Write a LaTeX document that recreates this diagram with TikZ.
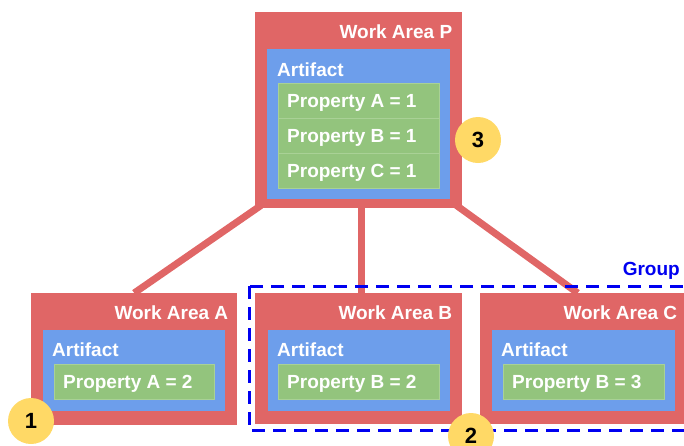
\documentclass[tikz,border=0pt]{standalone}
\usepackage{fontspec}
\setmainfont{Liberation Sans}
\usetikzlibrary{backgrounds}
\definecolor{areared}{HTML}{E06666}
\definecolor{artblue}{HTML}{6D9EEB}
\definecolor{propgreen}{HTML}{93C47D}
\definecolor{propline}{HTML}{A9D196}
\definecolor{markyellow}{HTML}{FFD966}
\definecolor{groupblue}{HTML}{0000F0}
\tikzset{
    area/.style={rectangle,fill=areared,anchor=north west,inner sep=0pt,minimum width=207pt},
    artifact/.style={rectangle,fill=artblue,anchor=north west,inner sep=0pt,minimum width=183pt},
    prop/.style={rectangle,fill=propgreen,draw=propline,line width=0.8pt,anchor=north west,inner sep=0pt,minimum width=161pt,minimum height=35pt},
    label/.style={inner sep=0pt,text=white,font=\fontsize{19}{22}\selectfont\bfseries,text height=13.6pt,text depth=0pt},
    marker/.style={circle,fill=markyellow,inner sep=0pt,minimum size=46pt,font=\fontsize{22}{26}\selectfont\bfseries},
    link/.style={areared,line width=7pt}
}
\begin{document}
\begin{tikzpicture}[x=1pt,y=-1pt]
	\useasboundingbox (0,0) rectangle (684,445);

	% parent work area
	\node[area,minimum height=196pt] (P) at (255,12) {};
	\node[label,anchor=east] at ([xshift=-10pt,yshift=-20pt]P.north east) {Work Area P};
	\node[artifact,minimum height=150pt] (artP) at (267,49) {};
	\node[label,anchor=west] at ([xshift=10pt,yshift=-21pt]artP.north west) {Artifact};
	\node[prop] (pA) at (278,83) {};
	\node[prop] (pB) at (278,118) {};
	\node[prop] (pC) at (278,153) {};
	\node[label,anchor=west] at ([xshift=9pt]pA.west) {Property A = 1};
	\node[label,anchor=west] at ([xshift=9pt]pB.west) {Property B = 1};
	\node[label,anchor=west] at ([xshift=9pt]pC.west) {Property C = 1};

	% child work areas
	\node[area,minimum width=206pt,minimum height=132pt] (A) at (31,293) {};
	\node[label,anchor=east] at ([xshift=-9pt,yshift=-20pt]A.north east) {Work Area A};
	\node[artifact,minimum width=182pt,minimum height=81pt] (artA) at (43,330) {};
	\node[label,anchor=west] at ([xshift=9pt,yshift=-20pt]artA.north west) {Artifact};
	\node[prop,minimum width=160pt] (qA) at (54,364) {};
	\node[label,anchor=west] at ([xshift=9pt]qA.west) {Property A = 2};

	\node[area,minimum height=131pt] (B) at (255,293) {};
	\node[label,anchor=east] at ([xshift=-10pt,yshift=-20pt]B.north east) {Work Area B};
	\node[artifact,minimum width=182pt,minimum height=81pt] (artB) at (268,330) {};
	\node[label,anchor=west] at ([xshift=9pt,yshift=-20pt]artB.north west) {Artifact};
	\node[prop] (qB) at (278,364) {};
	\node[label,anchor=west] at ([xshift=9pt]qB.west) {Property B = 2};

	\node[area,minimum height=131pt] (C) at (480,293) {};
	\node[label,anchor=east] at ([xshift=-10pt,yshift=-20pt]C.north east) {Work Area C};
	\node[artifact,minimum height=81pt] (artC) at (492,330) {};
	\node[label,anchor=west] at ([xshift=9pt,yshift=-20pt]artC.north west) {Artifact};
	\node[prop] (qC) at (503,364) {};
	\node[label,anchor=west] at ([xshift=9pt]qC.west) {Property B = 3};

	% links behind the boxes
	\begin{scope}[on background layer]
		\draw[link] ([xshift=6pt,yshift=3pt]P.south west) -- (A.north);
		\draw[link] ([xshift=3pt]P.south) -- ([xshift=3pt]B.north);
		\draw[link] ([xshift=-6pt,yshift=3pt]P.south east) -- ([xshift=-6pt]C.north);
	\end{scope}

	% group
	\draw[groupblue,line width=3pt,dash pattern=on 13pt off 8pt] (249,286) rectangle (700,430);
	\node[inner sep=0pt,anchor=east,text=groupblue,font=\fontsize{19}{22}\selectfont\bfseries] (grp) at (680,271) {Group};

	% markers
	\node[marker] (m1) at (31,421) {1};
	\node[marker] (m2) at (471,436) {2};
	\node[marker] (m3) at (478,140) {3};

\end{tikzpicture}
\end{document}
